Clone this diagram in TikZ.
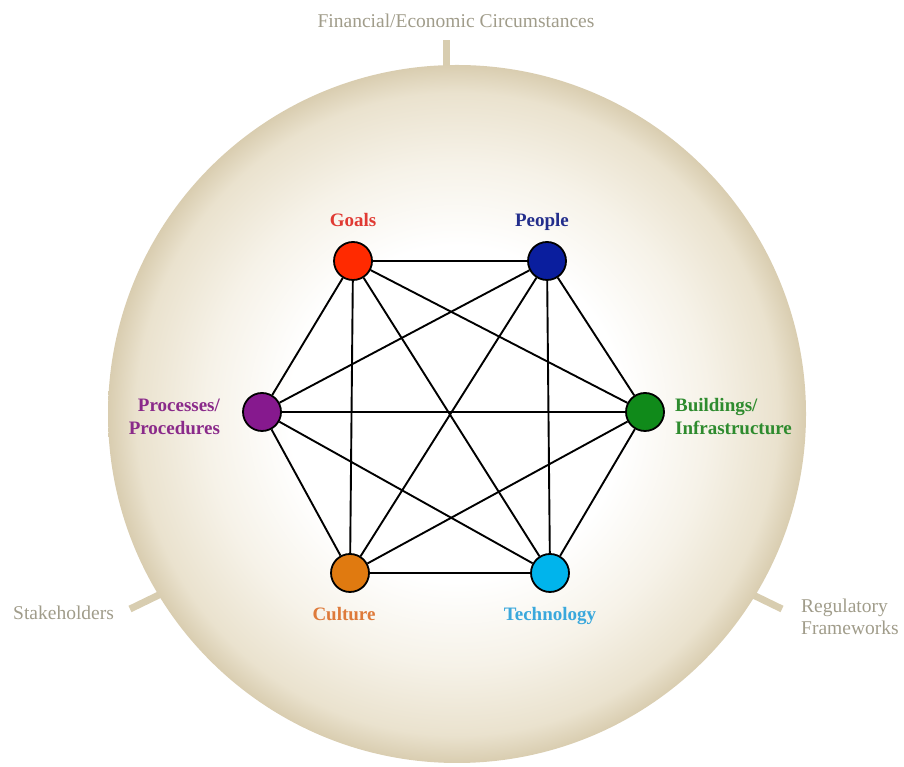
\documentclass[tikz,border=0pt]{standalone}
\usepackage{fontspec}
\setmainfont{Liberation Serif}
\usetikzlibrary{positioning}

\definecolor{goalsred}{HTML}{FF2A00}
\definecolor{peopleblue}{HTML}{0A1E9E}
\definecolor{procpurple}{HTML}{86198E}
\definecolor{buildgreen}{HTML}{108A1A}
\definecolor{cultorange}{HTML}{E07A10}
\definecolor{techcyan}{HTML}{00B4EC}
\definecolor{goalstext}{HTML}{E03A33}
\definecolor{peopletext}{HTML}{232E8C}
\definecolor{proctext}{HTML}{8A2A8A}
\definecolor{buildtext}{HTML}{2E8B2E}
\definecolor{culttext}{HTML}{DE7A3A}
\definecolor{techtext}{HTML}{3AA8DC}
\definecolor{ctxgray}{HTML}{A09C8A}
\definecolor{spokebeige}{HTML}{D8CDB0}
\definecolor{globemid}{HTML}{F6F2E8}
\definecolor{globeout}{HTML}{EAE2CE}
\definecolor{globerim}{HTML}{D9CDB0}

\pgfdeclareradialshading{globeshade}{\pgfpointorigin}{color(0bp)=(white); color(12bp)=(white); color(18bp)=(globemid); color(23bp)=(globeout); color(25bp)=(globerim); color(50bp)=(globerim)}

\tikzset{
    hub/.style={circle, draw=black, line width=1.8pt, minimum size=38pt, inner sep=0pt},
    tag/.style={font=\fontsize{19}{23}\selectfont\bfseries, inner sep=0pt, text height=13pt, text depth=4pt},
    duotag/.style={font=\fontsize{19}{23}\selectfont\bfseries, inner sep=0pt},
    link/.style={line width=1.9pt, black},
    context/.style={font=\fontsize{19.5}{22}\selectfont, text=ctxgray, inner sep=0pt},
    spoke/.style={line width=7pt, draw=spokebeige}
}

\begin{document}
\begin{tikzpicture}[x=1pt, y=1pt]
    \useasboundingbox (0,0) rectangle (904,767);
    % Spokes
    \coordinate (topout) at (446,727);
    \coordinate (topin) at (446,695);
    \coordinate (leftout) at (130,158);
    \coordinate (leftin) at (165,175);
    \coordinate (rightout) at (782,158);
    \coordinate (rightin) at (747,175);
    \draw[spoke] (topin) -- (topout);
    \draw[spoke] (leftin) -- (leftout);
    \draw[spoke] (rightin) -- (rightout);
    % Globe
    \coordinate (mid) at (457,353);
    \shade[shading=globeshade] (mid) circle (349pt);
    % Context
    \node[context, anchor=base] (finance) at (456,739) {Financial/Economic Circumstances};
    \node[context, anchor=base west] (stake) at (13,147) {Stakeholders};
    \node[context, anchor=north west, align=left] (regul) at (801,168) {Regulatory\\Frameworks};
    % Hubs
    \node[hub, fill=goalsred] (goals) at (353,506) {};
    \node[hub, fill=peopleblue] (people) at (547,506) {};
    \node[hub, fill=procpurple] (proc) at (262,355) {};
    \node[hub, fill=buildgreen] (build) at (645,355) {};
    \node[hub, fill=cultorange] (culture) at (350,194) {};
    \node[hub, fill=techcyan] (tech) at (550,194) {};
    % Tags
    \node[tag, text=goalstext, above=10pt of goals] (goalstag) {Goals};
    \node[tag, text=peopletext, above=10pt of people, xshift=-5pt] (peopletag) {People};
    \node[tag, text=culttext, below=14pt of culture, xshift=-6pt] (culturetag) {Culture};
    \node[tag, text=techtext, below=14pt of tech] (techtag) {Technology};
    \node[duotag, text=proctext, align=right, left=22pt of proc, yshift=-5pt] (proctag) {Processes/\\Procedures};
    \node[duotag, text=buildtext, align=left, right=10pt of build, yshift=-5pt] (buildtag) {Buildings/\\Infrastructure};
    % Links
    \draw[link] (goals) -- (people) (goals) -- (proc) (goals) -- (build) (goals) -- (culture) (goals) -- (tech);
    \draw[link] (people) -- (proc) (people) -- (build) (people) -- (culture) (people) -- (tech);
    \draw[link] (proc) -- (build) (proc) -- (culture) (proc) -- (tech);
    \draw[link] (build) -- (culture) (build) -- (tech);
    \draw[link] (culture) -- (tech);
\end{tikzpicture}
\end{document}
